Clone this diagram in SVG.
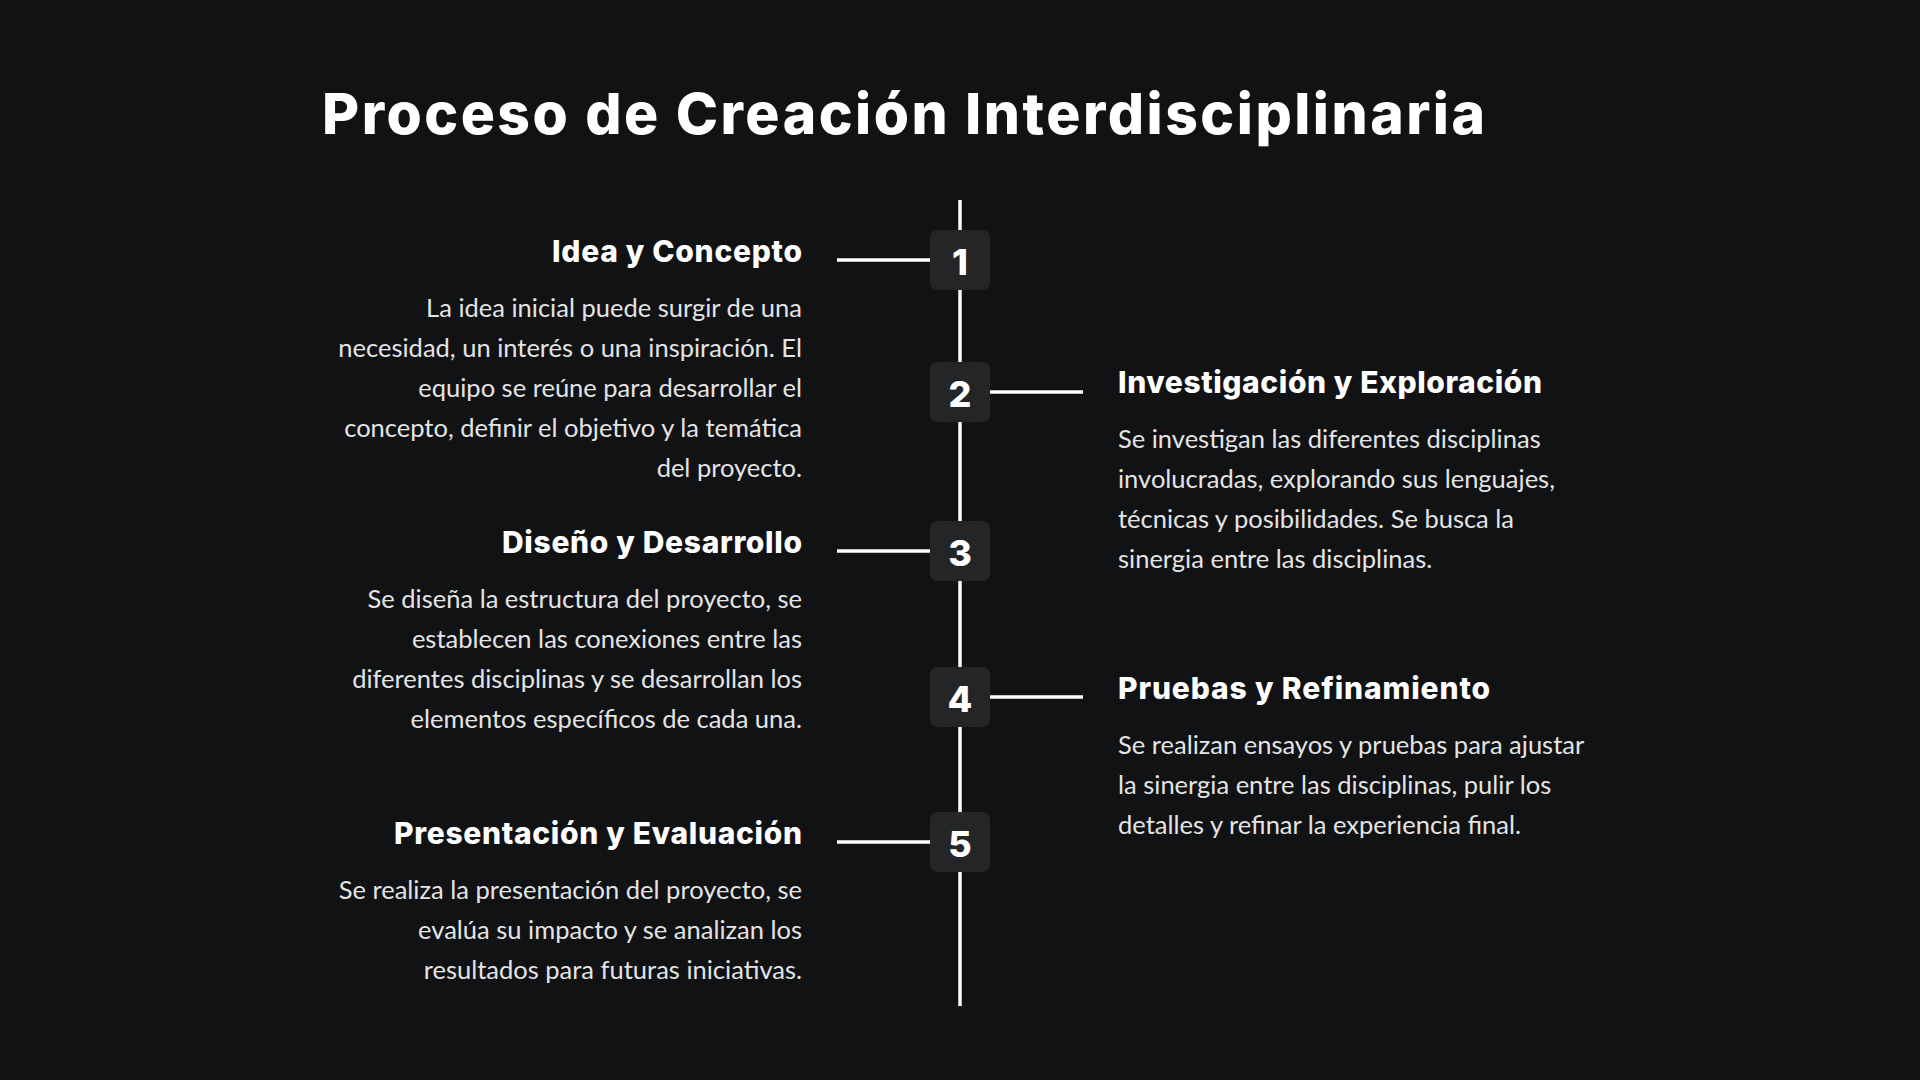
<svg xmlns="http://www.w3.org/2000/svg" width="1920" height="1080" viewBox="0 0 1920 1080">
<defs>
<style>
.bg{fill:#111214}
.title{font-family:Inter,"Open Sans","Liberation Sans",sans-serif;font-weight:800;font-size:57px;fill:#ffffff}
.head{font-family:Inter,"Open Sans","Liberation Sans",sans-serif;font-weight:800;font-size:30px;fill:#ffffff}
.body{font-family:Lato,"Liberation Sans",sans-serif;font-size:25.5px;fill:#e4e4e4}
.l{text-anchor:end}
.box{fill:#232527}
.num{font-family:Inter,"Open Sans","Liberation Sans",sans-serif;font-weight:800;font-size:36px;fill:#ffffff;text-anchor:middle}
.line{stroke:#ffffff;stroke-width:3.5;fill:none}
</style>
</defs>
<rect class="bg" x="0" y="0" width="1920" height="1080"/>
<text id="title" class="title" x="322" y="134" textLength="1163">Proceso de Creación Interdisciplinaria</text>
<g id="connectors">
<line class="line" x1="960" y1="200" x2="960" y2="1006"/>
<line class="line" x1="837" y1="260" x2="930" y2="260"/>
<line class="line" x1="990" y1="392" x2="1083" y2="392"/>
<line class="line" x1="837" y1="551" x2="930" y2="551"/>
<line class="line" x1="990" y1="697" x2="1083" y2="697"/>
<line class="line" x1="837" y1="842" x2="930" y2="842"/>
</g>
<g id="step1">
<rect class="box" x="930" y="230" width="60" height="60" rx="7"/>
<text class="num" x="960" y="275">1</text>
<text class="head l" x="802" y="262" textLength="250">Idea y Concepto</text>
<text class="body l" x="802" y="317">La idea inicial puede surgir de una</text>
<text class="body l" x="802" y="357">necesidad, un interés o una inspiración. El</text>
<text class="body l" x="802" y="397">equipo se reúne para desarrollar el</text>
<text class="body l" x="802" y="437">concepto, definir el objetivo y la temática</text>
<text class="body l" x="802" y="477">del proyecto.</text>
</g>
<g id="step2">
<rect class="box" x="930" y="362" width="60" height="60" rx="7"/>
<text class="num" x="960" y="407">2</text>
<text class="head" x="1118" y="393" textLength="424">Investigación y Exploración</text>
<text class="body" x="1118" y="448">Se investigan las diferentes disciplinas</text>
<text class="body" x="1118" y="488">involucradas, explorando sus lenguajes,</text>
<text class="body" x="1118" y="528">técnicas y posibilidades. Se busca la</text>
<text class="body" x="1118" y="568">sinergia entre las disciplinas.</text>
</g>
<g id="step3">
<rect class="box" x="930" y="521" width="60" height="60" rx="7"/>
<text class="num" x="960" y="566">3</text>
<text class="head l" x="802" y="553" textLength="300">Diseño y Desarrollo</text>
<text class="body l" x="802" y="608">Se diseña la estructura del proyecto, se</text>
<text class="body l" x="802" y="648">establecen las conexiones entre las</text>
<text class="body l" x="802" y="688">diferentes disciplinas y se desarrollan los</text>
<text class="body l" x="802" y="728">elementos específicos de cada una.</text>
</g>
<g id="step4">
<rect class="box" x="930" y="667" width="60" height="60" rx="7"/>
<text class="num" x="960" y="712">4</text>
<text class="head" x="1118" y="699" textLength="372">Pruebas y Refinamiento</text>
<text class="body" x="1118" y="754">Se realizan ensayos y pruebas para ajustar</text>
<text class="body" x="1118" y="794">la sinergia entre las disciplinas, pulir los</text>
<text class="body" x="1118" y="834">detalles y refinar la experiencia final.</text>
</g>
<g id="step5">
<rect class="box" x="930" y="812" width="60" height="60" rx="7"/>
<text class="num" x="960" y="857">5</text>
<text class="head l" x="802" y="844" textLength="408">Presentación y Evaluación</text>
<text class="body l" x="802" y="899">Se realiza la presentación del proyecto, se</text>
<text class="body l" x="802" y="939">evalúa su impacto y se analizan los</text>
<text class="body l" x="802" y="979">resultados para futuras iniciativas.</text>
</g>
</svg>
